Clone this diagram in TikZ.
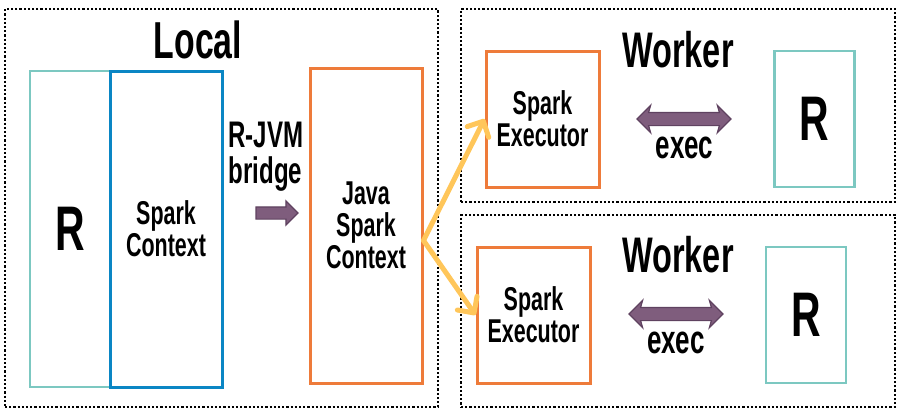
\documentclass[tikz,border=0pt]{standalone}
\usepackage{fontspec}
\setmainfont{Liberation Sans}[FakeStretch=0.65]
\usepackage{xcolor}
\usepackage{tikz}
\usetikzlibrary{arrows.meta,shapes.arrows,calc}

\definecolor{tealR}{HTML}{7CC8C1}
\definecolor{ctxblue}{HTML}{0A86C4}
\definecolor{sparkorange}{HTML}{EE7B3A}
\definecolor{forkyellow}{HTML}{FFC65A}
\definecolor{bridgefill}{HTML}{7F5D7D}
\definecolor{bridgeline}{HTML}{5F4260}

\begin{document}
\begin{tikzpicture}[x=1pt, y=-1pt,
    zone/.style={rectangle, draw, line width=2.2pt, dash pattern=on 2.2pt off 2pt, inner sep=0pt, minimum width=434pt},
    rbox/.style={rectangle, draw=tealR, line width=2.6pt, inner sep=0pt, minimum width=80pt, font=\bfseries\fontsize{63}{63}\selectfont},
    ctxbox/.style={rectangle, draw=ctxblue, line width=3pt, inner sep=0pt, align=center, font=\bfseries\fontsize{33}{32}\selectfont},
    sparkbox/.style={rectangle, draw=sparkorange, line width=3pt, inner sep=0pt, minimum width=113pt, align=center, font=\bfseries\fontsize{33}{32}\selectfont},
    title/.style={font=\bfseries\fontsize{52}{52}\selectfont, inner sep=0pt},
    tag/.style={font=\bfseries\fontsize{40}{40}\selectfont, inner sep=0pt, align=center},
    push/.style={single arrow, fill=bridgefill, draw=bridgeline, line width=1.2pt, inner sep=0pt, single arrow head extend=6pt, single arrow head indent=0pt, minimum height=42pt},
    swap/.style={double arrow, fill=bridgefill, draw=bridgeline, line width=1.2pt, inner sep=0pt, double arrow head extend=7pt, double arrow head indent=2pt, minimum height=94pt},
    fork/.style={-{Straight Barb[length=12pt, width=24pt, round]}, draw=forkyellow, line width=5pt, line cap=round, line join=round}
]
    \useasboundingbox (0,0) rectangle (903,410);

    % Local side
    \node[zone, minimum width=433pt, minimum height=398pt] (local) at (221.5,208) {};
    \node[title] (localtitle) at (198,40) {Local};
    \node[rbox, minimum height=316pt] (rlocal) at (70,229) {R};
    \node[ctxbox, minimum width=112pt, minimum height=316pt] (sc) at (166,229) {Spark\\Context};
    \node[sparkbox, minimum width=112pt, minimum height=315pt] (jsc) at (366,225.5) {Java\\Spark\\Context};

    % Bridge
    \node[font=\bfseries\fontsize{37}{36}\selectfont, inner sep=0pt, align=left] (bridge) at (266,157) {R-JVM\\bridge};
    \node[push] (brg) at (274,213) {\rule{0pt}{11pt}};

    % Workers
    \node[zone, minimum height=193pt] (w1) at (678,105.5) {};
    \node[zone, minimum height=192pt] (w2) at (678,311) {};
    \node[title, font=\bfseries\fontsize{50}{50}\selectfont] (w1title) at (678,50) {Worker};
    \node[title, font=\bfseries\fontsize{50}{50}\selectfont] (w2title) at (678,255) {Worker};

    \node[sparkbox, minimum height=136pt] (ex1) at (542.5,119) {Spark\\Executor};
    \node[rbox, minimum height=136pt] (r1) at (814.5,119) {R};
    \node[swap] (d1) at (684,119) {\rule{0pt}{12pt}};
    \node[tag] (exec1) at (684.5,148) {exec};

    \node[sparkbox, minimum height=136pt] (ex2) at (533.5,315) {Spark\\Executor};
    \node[rbox, minimum height=136pt] (r2) at (806,315) {R};
    \node[swap] (d2) at (676,314) {\rule{0pt}{12pt}};
    \node[tag] (exec2) at (676,343) {exec};

    % Fork to executors
    \coordinate (fork) at ([yshift=-15pt]jsc.east);
    \draw[fork] (fork) -- (ex1.west);
    \draw[fork] (fork) -- (ex2.west);
\end{tikzpicture}
\end{document}
